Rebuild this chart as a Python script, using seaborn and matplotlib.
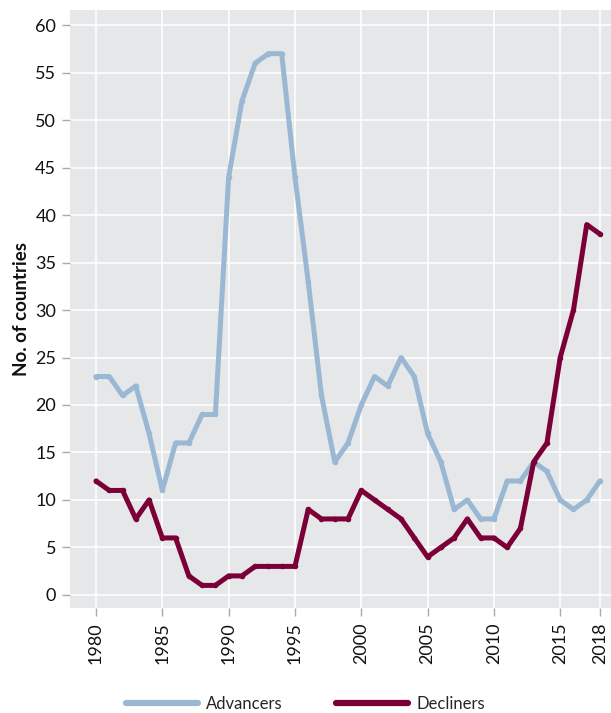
import matplotlib.pyplot as plt
import pandas as pd
import seaborn as sns

years = list(range(1980, 2019))
advancers = [23, 23, 21, 22, 17, 11, 16, 16, 19, 19,
             44, 52, 56, 57, 57, 44, 33, 21, 14, 16,
             20, 23, 22, 25, 23, 17, 14, 9, 10, 8,
             8, 12, 12, 14, 13, 10, 9, 10, 12]
decliners = [12, 11, 11, 8, 10, 6, 6, 2, 1, 1,
             2, 2, 3, 3, 3, 3, 9, 8, 8, 8,
             11, 10, 9, 8, 6, 4, 5, 6, 8, 6,
             6, 5, 7, 14, 16, 25, 30, 39, 38]
x_ticks = [1980, 1985, 1990, 1995, 2000, 2005, 2010, 2015, 2018]
y_ticks = list(range(0, 61, 5))


def run():
    sns.set_theme(style='darkgrid', rc={
        'axes.facecolor': '#e6e7e9',
        'grid.color': 'white',
        'grid.linewidth': 1.1,
    })
    plt.rcParams['font.family'] = ['Lato', 'DejaVu Sans']

    df = pd.DataFrame({
        'year': years * 2,
        'count': advancers + decliners,
        'group': ['Advancers'] * len(years) + ['Decliners'] * len(years),
    })

    fig = plt.figure(figsize=(6.11, 7.13), dpi=100)
    ax = fig.add_axes([0.1146, 0.147, 0.8854, 0.839])
    sns.lineplot(data=df, x='year', y='count', hue='group', ax=ax,
                 palette={'Advancers': '#9ab8d3', 'Decliners': '#7b0038'},
                 linewidth=3.6, marker='o', markersize=4, markeredgewidth=0)

    ax.set_xlim(1978.04, 2018.83)
    ax.set_ylim(-1.4, 61.6)
    ax.set_xticks(x_ticks)
    ax.set_yticks(y_ticks)
    ax.tick_params(axis='both', which='both', length=6, width=1, color='#aaaaaa',
                   labelsize=13, labelcolor='#111111', bottom=True, left=True, pad=4)
    ax.tick_params(axis='x', labelrotation=90)
    ax.set_xlabel('')
    ax.set_ylabel('No. of countries', fontsize=13.5, fontweight='bold', color='#111111', labelpad=4)
    for spine in ax.spines.values():
        spine.set_visible(False)

    handles, labels = ax.get_legend_handles_labels()
    ax.get_legend().remove()
    for h in handles:
        h.set_marker('')
        h.set_linewidth(4.5)
    fig.legend(handles, labels, loc='lower center', bbox_to_anchor=(0.5, -0.02), ncol=2,
               frameon=False, fontsize=12, handlelength=4.3, columnspacing=3.2, handletextpad=0.5)

    fig.savefig('out.png', dpi=100)
    plt.close(fig)


if __name__ == '__main__':
    run()
